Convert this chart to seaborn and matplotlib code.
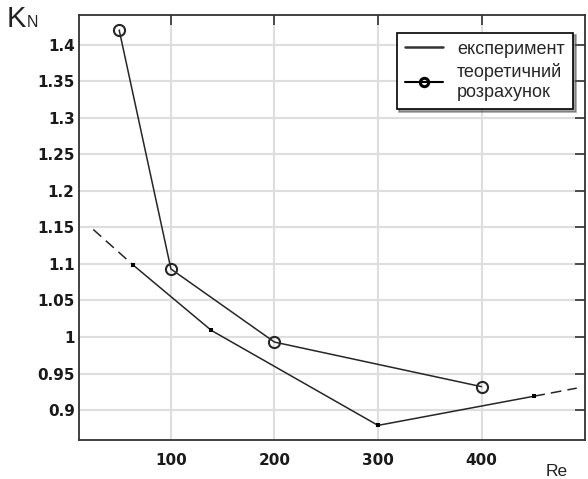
import matplotlib
matplotlib.use("Agg")
import matplotlib.pyplot as plt
import seaborn as sns
import pandas as pd
from matplotlib.lines import Line2D

sns.set_theme(style="white")
plt.rcParams['font.family'] = ['DejaVu Sans']

# data
theory_re = [50, 100, 200, 400]
theory_k = [1.42, 1.093, 0.993, 0.932]
exp_re = [63, 139, 300, 451]
exp_k = [1.099, 1.009, 0.879, 0.919]
ext_start_re = [25, 63]
ext_start_k = [1.147, 1.099]
ext_end_re = [451, 492]
ext_end_k = [0.919, 0.930]
xticks = [100, 200, 300, 400]
yticks = [0.9, 0.95, 1.0, 1.05, 1.1, 1.15, 1.2, 1.25, 1.3, 1.35, 1.4]
ytick_labels = ["0.9", "0.95", "1", "1.05", "1.1", "1.15", "1.2", "1.25", "1.3", "1.35", "1.4"]
legend_labels = ["експеримент", "теоретичний\nрозрахунок"]

fig = plt.figure(figsize=(5.88, 4.79), dpi=100)
ax = fig.add_axes([0.134, 0.0814, 0.861, 0.888])

df_exp = pd.DataFrame({"Re": exp_re, "K": exp_k})
df_th = pd.DataFrame({"Re": theory_re, "K": theory_k})

line_col = "#262626"
sns.lineplot(data=pd.DataFrame({"Re": ext_start_re, "K": ext_start_k}), x="Re", y="K", ax=ax,
             color=line_col, lw=1.1, linestyle=(0, (7, 4)), sort=False)
sns.lineplot(data=pd.DataFrame({"Re": ext_end_re, "K": ext_end_k}), x="Re", y="K", ax=ax,
             color=line_col, lw=1.1, linestyle=(0, (7, 4)), sort=False)
sns.lineplot(data=df_exp, x="Re", y="K", ax=ax, color=line_col, lw=1.1, sort=False,
             marker="s", markersize=3, markeredgewidth=0, markerfacecolor="black")
sns.lineplot(data=df_th, x="Re", y="K", ax=ax, color=line_col, lw=1.1, sort=False,
             marker="o", markersize=8, markerfacecolor="none", markeredgecolor=line_col,
             markeredgewidth=1.5)

ax.set_xlim(11, 500)
ax.set_ylim(0.859, 1.441)
ax.set_xticks(xticks)
ax.set_xticklabels([str(t) for t in xticks], fontsize=11, fontweight="bold", color="#1a1a1a")
ax.set_yticks(yticks)
ax.set_yticklabels(ytick_labels, fontsize=11, fontweight="bold", color="#1a1a1a")
ax.grid(True, color="#dedede", lw=1.5)
ax.tick_params(direction="in", length=7, width=1.2, top=True, right=True, colors="#333333",
               labelcolor="#1a1a1a")
ax.tick_params(axis="y", pad=3)
ax.tick_params(axis="x", pad=9)
for s in ax.spines.values():
    s.set_color("#333333")
    s.set_linewidth(1.3)
ax.set_xlabel("")
ax.set_ylabel("")

fig.text(0.011, 0.9436, "K", fontsize=21, ha="left", va="baseline", family="Liberation Sans",
         color="#222222")
fig.text(0.045, 0.9436, "N", fontsize=11.5, ha="left", va="baseline", family="Liberation Sans",
         color="#222222")
fig.text(0.946, 0.006, "Re", fontsize=12.5, ha="center", va="baseline", family="Liberation Sans",
         color="#222222")

handles = [Line2D([0], [0], color="#333333", lw=1.8),
           Line2D([0], [0], color="black", lw=1.5, marker="o", markersize=6,
                  markerfacecolor="none", markeredgewidth=2.2)]
leg = ax.legend(handles, legend_labels, loc="upper right",
                bbox_to_anchor=(0.976, 0.958), frameon=True, fancybox=False, shadow=True,
                prop={"family": "Liberation Sans", "size": 13}, handlelength=2.1,
                borderpad=0.45, labelspacing=0.3, handletextpad=0.8, borderaxespad=0)
leg.get_frame().set_edgecolor("black")
leg.get_frame().set_linewidth(1.2)

fig.savefig("out.png", dpi=100)
